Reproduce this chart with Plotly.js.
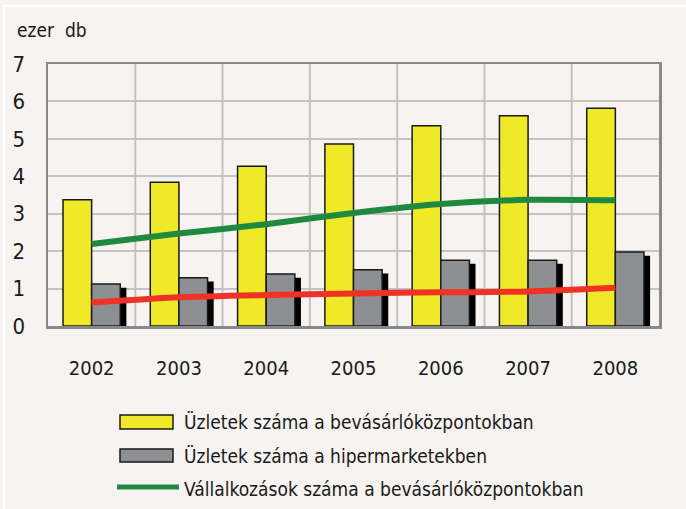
<!DOCTYPE html>
<html>
<head>
<meta charset="utf-8">
<script src="https://cdn.plot.ly/plotly-3.0.1.min.js"></script>
<style>html,body{margin:0;padding:0;background:#f6f3f0;}</style>
</head>
<body>
<div id="chart" style="width:686px;height:509px;"></div>
<script>
const years = ['2002','2003','2004','2005','2006','2007','2008'];
const uzletekBevasarlo = [3.37, 3.84, 4.27, 4.86, 5.35, 5.62, 5.82];
const uzletekHiper = [1.12, 1.29, 1.39, 1.50, 1.76, 1.76, 1.98];
const vallalkozasokBevasarlo = [2.19, 2.47, 2.72, 3.02, 3.26, 3.37, 3.36];
const vallalkozasokHiper = [0.63, 0.77, 0.83, 0.87, 0.90, 0.92, 1.02];
const legendLabels = [
  'Üzletek száma a bevásárlóközpontokban',
  'Üzletek száma a hipermarketekben',
  'Vállalkozások száma a bevásárlóközpontokban'
];
const yTicks = [0,1,2,3,4,5,6,7];

const FONT = '"Liberation Sans Narrow", "DejaVu Sans Condensed", Arial, sans-serif';
const BG = '#f6f3f0';
const YELLOW = '#f0e927';
const GRAY = '#8d8f93';
const GREEN = '#1f8a3f';
const RED = '#ee3326';
const BW = 0.328;

const shadowY = uzletekHiper.map(v => v - 0.1);

const traces = [
  {type:'bar', x:years, y:uzletekBevasarlo, name:legendLabels[0], offset:-BW, width:BW,
   marker:{color:YELLOW, line:{color:'#1a1a1a', width:1.5}}, showlegend:false},
  {type:'bar', x:years, y:shadowY, name:'shadow', offset:0.07, width:BW,
   marker:{color:'#000000', line:{width:0}}, showlegend:false, hoverinfo:'skip'},
  {type:'bar', x:years, y:uzletekHiper, name:legendLabels[1], offset:0, width:BW,
   marker:{color:GRAY, line:{color:'#1a1a1a', width:1.5}}, showlegend:false},
  {type:'scatter', mode:'lines', x:years, y:vallalkozasokBevasarlo, name:legendLabels[2],
   line:{color:GREEN, width:6, shape:'spline', smoothing:0.6}, showlegend:false},
  {type:'scatter', mode:'lines', x:years, y:vallalkozasokHiper, name:'Vállalkozások száma a hipermarketekben',
   line:{color:RED, width:6, shape:'spline', smoothing:0.6}, showlegend:false}
];

// custom legend (paper coords relative to plot area)
const L = 48, R = 659, T = 64, B = 326;
const px = v => (v - L) / (R - L);
const py = v => (B - v) / (B - T);

const shapes = [
  {type:'rect', xref:'paper', yref:'paper', x0:px(120), x1:px(173), y0:py(429), y1:py(415),
   fillcolor:YELLOW, line:{color:'#1a1a1a', width:1.5}},
  {type:'rect', xref:'paper', yref:'paper', x0:px(120), x1:px(173), y0:py(462), y1:py(449),
   fillcolor:GRAY, line:{color:'#1a1a1a', width:1.5}},
  {type:'line', xref:'paper', yref:'paper', x0:px(117), x1:px(179), y0:py(487), y1:py(487),
   line:{color:GREEN, width:5}},
  // frame highlight
  {type:'line', xref:'paper', yref:'paper', x0:px(4), x1:px(686), y0:py(6), y1:py(6),
   line:{color:'#ffffff', width:2.5}},
  {type:'line', xref:'paper', yref:'paper', x0:px(4), x1:px(4), y0:py(6), y1:py(509),
   line:{color:'#ffffff', width:2.5}}
];

const legendY = [422, 456, 489];
const annotations = legendLabels.map((t, i) => ({
  xref:'paper', yref:'paper', x:px(182), y:py(legendY[i]), xanchor:'left', yanchor:'middle',
  text:t, showarrow:false, font:{family:FONT, size:19, color:'#1a1a1a'}
}));
annotations.push({xref:'paper', yref:'paper', x:px(15), y:py(30), xanchor:'left', yanchor:'middle',
  text:'ezer  db', showarrow:false, font:{family:FONT, size:19, color:'#1a1a1a'}});

const layout = {
  width:686, height:509,
  margin:{l:48, r:27, t:64, b:183, pad:0},
  paper_bgcolor:BG, plot_bgcolor:BG,
  barmode:'overlay',
  showlegend:false,
  font:{family:FONT, color:'#1a1a1a'},
  xaxis:{type:'category', tickvals:years, ticktext:years, showgrid:false,
    showline:true, linecolor:'#88898c', linewidth:2.5, mirror:true,
    ticks:'', tickfont:{family:FONT, size:20, color:'#1a1a1a'}, ticklabelstandoff:22,
    range:[-0.5, 6.5], zeroline:false},
  yaxis:{range:[0,7], tickvals:yTicks, showgrid:true, gridcolor:'#c3c2c4', gridwidth:2,
    showline:true, linecolor:'#88898c', linewidth:2.5, mirror:true,
    ticks:'', tickfont:{family:FONT, size:22, color:'#1a1a1a'}, ticklabelstandoff:16,
    zeroline:false},
  shapes: shapes.concat([1,2,3,4,5,6].map(k => ({
    type:'line', xref:'x', yref:'paper', x0:k-0.5, x1:k-0.5, y0:0, y1:1,
    line:{color:'#c3c2c4', width:2}, layer:'below'}))),
  annotations: annotations
};

Plotly.newPlot('chart', traces, layout, {displayModeBar:false, staticPlot:true});
</script>
</body>
</html>
